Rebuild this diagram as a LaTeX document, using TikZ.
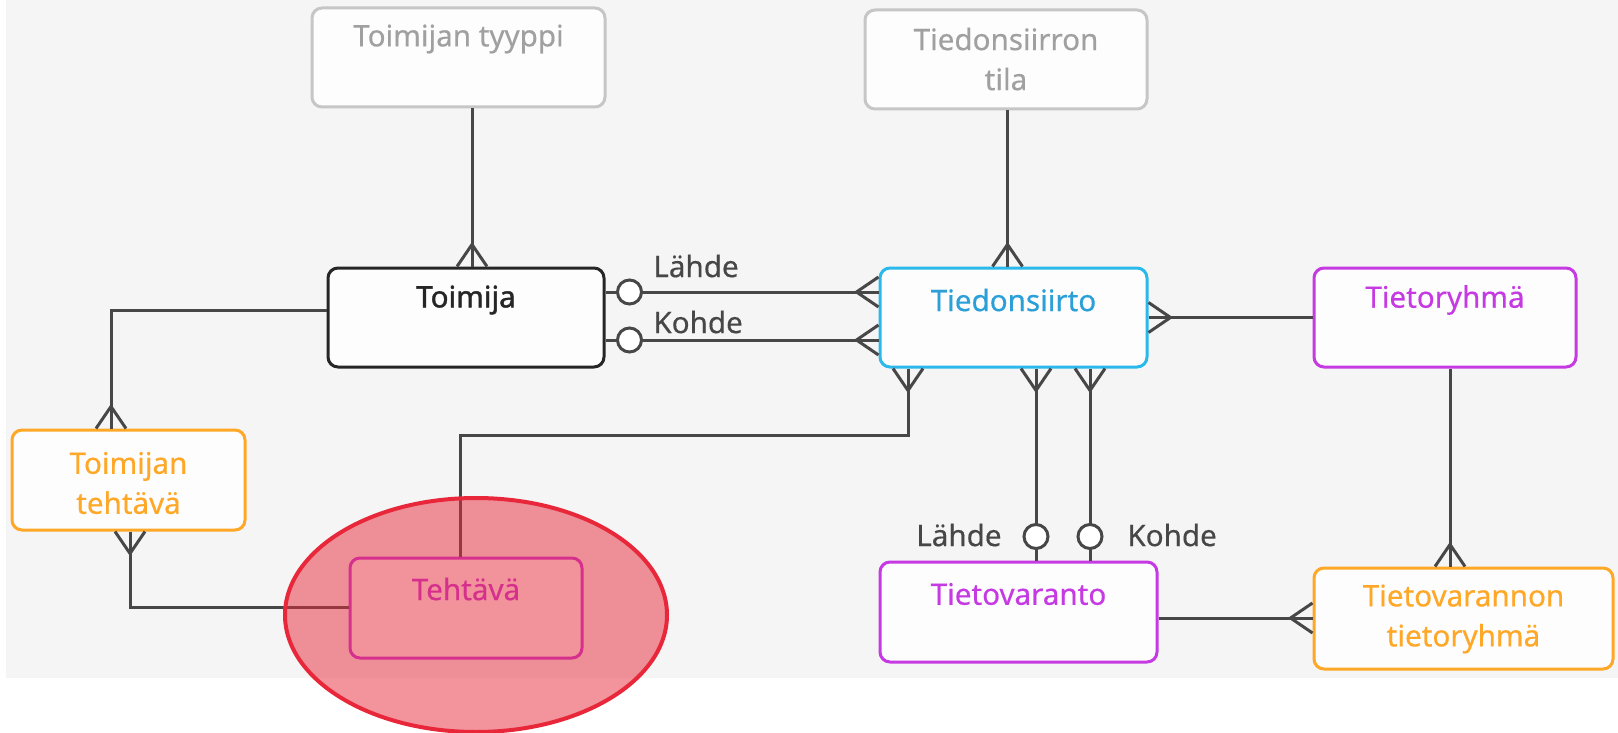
\documentclass[tikz,border=0pt]{standalone}
\usepackage{fontspec}
\setmainfont{Noto Sans}[FakeBold=0.4]
\newfontfamily\medfont{Noto Sans}[FakeBold=1.4]
\usetikzlibrary{calc}
\definecolor{bgc}{HTML}{F5F5F5}
\definecolor{linec}{HTML}{474747}
\definecolor{greyb}{HTML}{C6C6C6}
\definecolor{greyt}{HTML}{A0A0A0}
\definecolor{darkt}{HTML}{262626}
\definecolor{cyanb}{HTML}{2BB8EA}
\definecolor{cyant}{HTML}{2A9FD8}
\definecolor{purp}{HTML}{C53AE2}
\definecolor{orng}{HTML}{FFA726}
\definecolor{redc}{HTML}{E8283A}
\definecolor{boxfill}{HTML}{FDFDFD}
\begin{document}
\begin{tikzpicture}[x=0.5pt,y=-0.5pt,
  box/.style={draw, rounded corners=5pt, line width=1.5pt, fill=boxfill, inner sep=0pt},
  ttl/.style={font=\fontsize{14.8}{20}\selectfont, align=center, inner sep=0pt},
  conn/.style={draw=linec, line width=1.5pt},
  lbl/.style={font=\fontsize{14.8}{20}\selectfont, text=darkt!85!white, inner sep=0pt},
  circ/.style={circle, draw=linec, line width=1.5pt, fill=white, minimum size=12pt, inner sep=0pt},
  crowsfoot/.pic={\draw[conn, line join=miter] (0,-15) -- (22,0) -- (0,15);}
]
\useasboundingbox (0,0) rectangle (1618,733);
\fill[white] (0,0) rectangle (1618,733);
\fill[bgc] (6,0) rectangle (1618,678);

% boxes
\node[box, draw=greyb, minimum width=146.5pt, minimum height=49.5pt] (tt) at (458.5,57.5) {};
\node[box, draw=greyb, minimum width=141pt, minimum height=49.5pt] (ts) at (1006,59.5) {};
\node[box, draw=darkt, minimum width=138pt, minimum height=49.5pt] (toimija) at (466,317.5) {};
\node[box, draw=cyanb, minimum width=133.5pt, minimum height=49.5pt] (tds) at (1013.5,317.5) {};
\node[box, draw=purp, minimum width=131pt, minimum height=49.5pt] (tr) at (1445,317.5) {};
\node[box, draw=orng, minimum width=116.5pt, minimum height=50pt] (tte) at (128.5,480) {};
\node[box, draw=purp, minimum width=116pt, minimum height=50pt] (teh) at (466,608) {};
\node[box, draw=purp, minimum width=138.5pt, minimum height=50pt] (tv) at (1018.5,612) {};
\node[box, draw=orng, minimum width=149.5pt, minimum height=50.5pt] (tvt) at (1463.5,618.5) {};

% connectors
% Toimijan tyyppi -> Toimija
\coordinate (c1a) at ($(tt.south)+(13.5,0)$);
\coordinate (c1b) at (c1a |- toimija.north);
\draw[conn] (c1a) -- (c1b);
\pic[rotate=90] at (c1b) {crowsfoot};

% Toimija -> Tiedonsiirto (Lahde, Kohde)
\coordinate (lA) at ($(toimija.east)+(0,-25.5)$);
\coordinate (lB) at (lA -| tds.west);
\coordinate (kA) at ($(toimija.east)+(0,22.5)$);
\coordinate (kB) at (kA -| tds.west);
\draw[conn] (lA) -- (lB);
\draw[conn] (kA) -- (kB);
\pic[rotate=180] at (lB) {crowsfoot};
\pic[rotate=180] at (kB) {crowsfoot};
\node[circ] (lC) at ($(lA)+(24,0)$) {};
\node[circ] (kC) at ($(kA)+(24,0)$) {};
\node[lbl, anchor=west] (lL) at (653,266) {Lähde};
\node[lbl, anchor=west] (kL) at (653,322) {Kohde};

% Toimija -> Toimijan tehtava
\coordinate (c3a) at ($(toimija.west)+(0,-7.5)$);
\coordinate (c3b) at ($(tte.north)+(-17.5,0)$);
\draw[conn] (c3a) -| (c3b);
\pic[rotate=90] at (c3b) {crowsfoot};

% Toimijan tehtava -> Tehtava
\coordinate (c4a) at ($(tte.south)+(1.5,0)$);
\draw[conn] (c4a) |- ($(teh.west)+(0,-1)$);
\pic[rotate=-90] at (c4a) {crowsfoot};

% Tiedonsiirto -> Tehtava
\coordinate (c5a) at ($(tds.south)+(-105.5,0)$);
\coordinate (c5b) at ($(teh.north)+(-6,0)$);
\draw[conn] (c5a) -- ($(c5a)+(0,67)$) -| (c5b);
\pic[rotate=-90] at (c5a) {crowsfoot};

% Tiedonsiirron tila -> Tiedonsiirto
\coordinate (c6a) at ($(ts.south)+(1.5,0)$);
\coordinate (c6b) at (c6a |- tds.north);
\draw[conn] (c6a) -- (c6b);
\pic[rotate=90] at (c6b) {crowsfoot};

% Tiedonsiirto -> Tietovaranto (Lahde, Kohde)
\coordinate (c7a) at ($(tds.south)+(22.5,0)$);
\coordinate (c7b) at (c7a |- tv.north);
\coordinate (c8a) at ($(tds.south)+(76.5,0)$);
\coordinate (c8b) at (c8a |- tv.north);
\draw[conn] (c7a) -- (c7b);
\draw[conn] (c8a) -- (c8b);
\pic[rotate=-90] at (c7a) {crowsfoot};
\pic[rotate=-90] at (c8a) {crowsfoot};
\node[circ] (c7c) at ($(c7b)+(0,-24)$) {};
\node[circ] (c8c) at ($(c8b)+(0,-24)$) {};
\node[lbl, anchor=east] (lL2) at (1002,535) {Lähde};
\node[lbl, anchor=west] (kL2) at (1127,535) {Kohde};

% Tiedonsiirto -> Tietoryhma
\draw[conn] (tds.east) -- (tr.west);
\pic[rotate=0] at (tds.east) {crowsfoot};

% Tietoryhma -> Tietovarannon tietoryhma
\coordinate (c9a) at ($(tr.south)+(5,0)$);
\coordinate (c9b) at (c9a |- tvt.north);
\draw[conn] (c9a) -- (c9b);
\pic[rotate=90] at (c9b) {crowsfoot};

% Tietovaranto -> Tietovarannon tietoryhma
\coordinate (c10a) at ($(tv.east)+(0,6)$);
\coordinate (c10b) at (c10a -| tvt.west);
\draw[conn] (c10a) -- (c10b);
\pic[rotate=180] at (c10b) {crowsfoot};

% titles
\node[ttl, text=greyt] (ttT) at (458.5,39) {Toimijan tyyppi};
\node[ttl, text=greyt] (tsT) at (1006,59) {Tiedonsiirron\\tila};
\node[ttl, text=darkt, font=\fontsize{14.8}{20}\medfont] (toimijaT) at (466,300) {Toimija};
\node[ttl, text=cyant] (tdsT) at (1013.5,300) {Tiedonsiirto};
\node[ttl, text=purp] (trT) at (1445,300) {Tietoryhmä};
\node[ttl, text=orng] (tteT) at (128.5,483) {Toimijan\\tehtävä};
\node[ttl, text=purp] (tehT) at (466,589) {Tehtävä};
\node[ttl, text=purp] (tvT) at (1018.5,594) {Tietovaranto};
\node[ttl, text=orng] (tvtT) at (1463.5,619) {Tietovarannon\\tietoryhmä};

% highlight ellipse
\draw[draw=redc, line width=2pt, fill=redc, fill opacity=0.5] (476,615) ellipse [x radius=95.5pt, y radius=58.5pt];
\end{tikzpicture}
\end{document}
